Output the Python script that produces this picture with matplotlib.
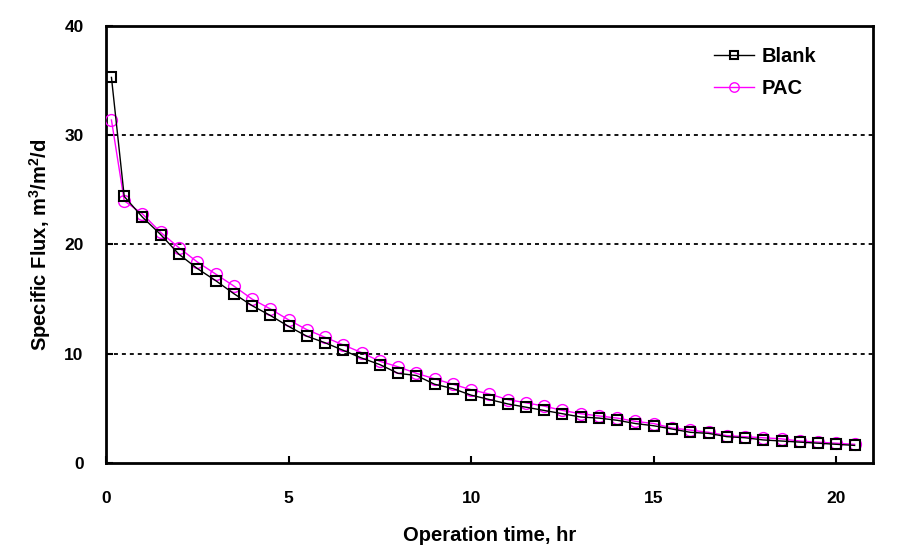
import matplotlib
matplotlib.use("Agg")
import matplotlib.pyplot as plt

plt.rcParams["font.family"] = ["Liberation Sans", "DejaVu Sans"]
plt.rcParams["font.weight"] = "bold"
plt.rcParams["mathtext.fontset"] = "custom"
plt.rcParams["mathtext.rm"] = "Liberation Sans:bold"
plt.rcParams["mathtext.bf"] = "Liberation Sans:bold"
plt.rcParams["mathtext.default"] = "bf"

# operation time (hr)
time_hr = [0.15] + [0.5 * i for i in range(1, 42)]

blank_flux = [35.3, 24.4, 22.5, 20.9, 19.1, 17.8, 16.7, 15.5, 14.4, 13.5,
              12.5, 11.6, 11.0, 10.3, 9.6, 9.0, 8.2, 8.0, 7.2, 6.8,
              6.2, 5.8, 5.4, 5.1, 4.8, 4.5, 4.2, 4.1, 3.9, 3.6,
              3.4, 3.1, 2.8, 2.7, 2.4, 2.3, 2.1, 2.0, 1.9, 1.8,
              1.7, 1.6]
pac_flux = [31.4, 24.0, 22.8, 21.1, 19.7, 18.4, 17.3, 16.2, 15.0, 14.1,
            13.1, 12.2, 11.5, 10.8, 10.1, 9.3, 8.8, 8.2, 7.7, 7.2,
            6.7, 6.3, 5.8, 5.5, 5.2, 4.8, 4.5, 4.3, 4.1, 3.8,
            3.6, 3.2, 3.0, 2.8, 2.5, 2.4, 2.3, 2.2, 2.0, 1.9,
            1.8, 1.7]

x_ticks = [0, 5, 10, 15, 20]
y_ticks = [0, 10, 20, 30, 40]

fig = plt.figure(figsize=(8.98, 5.55), dpi=100)
ax = fig.add_axes([0.118, 0.166, 0.854, 0.787])

for y in y_ticks[1:-1]:
    ax.axhline(y, color="black", linestyle=(0, (2.2, 2.2)), linewidth=1.3, zorder=1)

ax.plot(time_hr, pac_flux, color="#ff00ff", linewidth=1.0, marker="o",
        markersize=8.5, markerfacecolor="none", markeredgecolor="#ff00ff",
        markeredgewidth=1.0, label="PAC", zorder=3)
ax.plot(time_hr, blank_flux, color="black", linewidth=1.0, marker="s",
        markersize=6.5, markerfacecolor="none", markeredgecolor="black",
        markeredgewidth=1.5, label="Blank", zorder=4)

ax.set_xlim(0, 21)
ax.set_ylim(0, 40)
ax.set_xticks(x_ticks)
ax.set_yticks(y_ticks)
ax.tick_params(direction="in", length=5, width=1.5, labelsize=12.5, pad=16)
ax.tick_params(axis="x", pad=20)
for s in ax.spines.values():
    s.set_linewidth(2)

ax.set_xlabel("Operation time, hr", fontsize=14.5, fontweight="bold", labelpad=15)
ax.set_ylabel("Specific Flux, m$^3$/m$^2$/d", fontsize=14.5, fontweight="bold", labelpad=8)

handles, labels = ax.get_legend_handles_labels()
ax.legend(handles[::-1], labels[::-1], loc="upper right", frameon=False,
          fontsize=14.5, handlelength=2.0, handletextpad=0.4, markerscale=0.8,
          borderaxespad=0.3, bbox_to_anchor=(0.945, 0.985), labelspacing=0.65)

fig.savefig("out.png", dpi=100)
